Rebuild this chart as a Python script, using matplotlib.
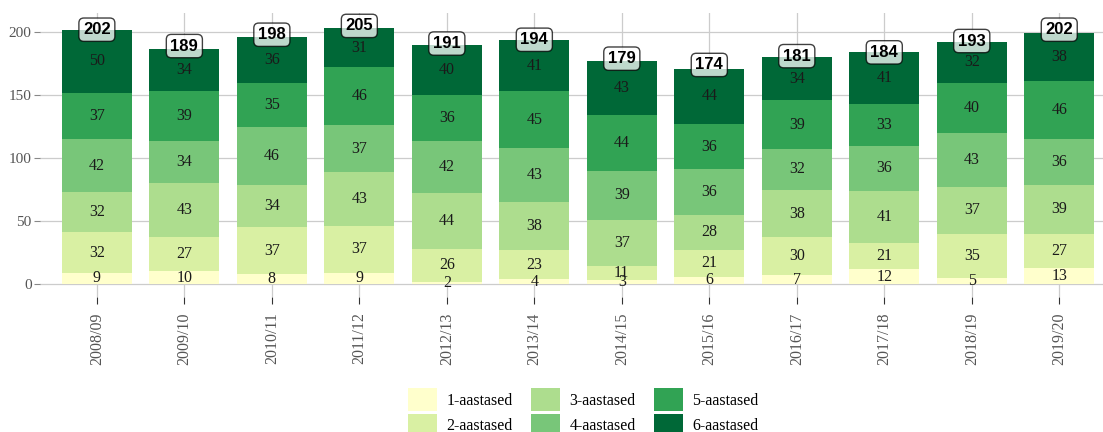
import matplotlib
matplotlib.use("Agg")
import matplotlib.pyplot as plt
import numpy as np

years = ["2008/09", "2009/10", "2010/11", "2011/12", "2012/13", "2013/14",
         "2014/15", "2015/16", "2016/17", "2017/18", "2018/19", "2019/20"]
series_names = ["1-aastased", "2-aastased", "3-aastased", "4-aastased", "5-aastased", "6-aastased"]
age1 = [9, 10, 8, 9, 2, 4, 3, 6, 7, 12, 5, 13]
age2 = [32, 27, 37, 37, 26, 23, 11, 21, 30, 21, 35, 27]
age3 = [32, 43, 34, 43, 44, 38, 37, 28, 38, 41, 37, 39]
age4 = [42, 34, 46, 37, 42, 43, 39, 36, 32, 36, 43, 36]
age5 = [37, 39, 35, 46, 36, 45, 44, 36, 39, 33, 40, 46]
age6 = [50, 34, 36, 31, 40, 41, 43, 44, 34, 41, 32, 38]
totals = [202, 189, 198, 205, 191, 194, 179, 174, 181, 184, 193, 202]
colors = ["#ffffcc", "#d9f0a3", "#addd8e", "#78c679", "#31a354", "#006837"]

series = [age1, age2, age3, age4, age5, age6]

fig = plt.figure(figsize=(11.03, 4.32), dpi=100)
W, H = 1103, 432
ax = fig.add_axes([40 / W, 135 / H, 1 - 40 / W, (419 - 135) / H])

x = np.arange(len(years))
bottom = np.zeros(len(years))
handles = []
for vals, name, col in zip(series, series_names, colors):
    v = np.array(vals, dtype=float)
    b = ax.bar(x, v, width=0.8, bottom=bottom, color=col, label=name, zorder=2)
    handles.append(b)
    for xi, bi, vi in zip(x, bottom, v):
        ax.text(xi, bi + vi / 2, f"{int(vi)}", ha="center", va="center",
                fontsize=11.5, family="Liberation Serif", color="#1a1a1a", zorder=3)
    bottom += v

for xi, t in zip(x, totals):
    ax.text(xi, t, f"{t}", ha="center", va="center", fontsize=12,
            family="Liberation Sans", fontweight="bold", color="black", zorder=4,
            bbox=dict(boxstyle="round,pad=0.25,rounding_size=0.3", fc="white",
                      ec="black", lw=1, alpha=0.75))

ax.set_xlim(-0.65, 11.5)
ax.set_ylim(-10.25, 215.25)
ax.set_yticks([0, 50, 100, 150, 200])
ax.set_xticks(x)
ax.set_xticklabels(years, rotation=90, family="Liberation Serif", fontsize=11.5, color="#555555")
for lab in ax.get_yticklabels():
    lab.set_family("Liberation Serif")
    lab.set_fontsize(11)
    lab.set_color("#555555")
ax.grid(True, color="#cccccc", lw=0.9, zorder=0)
ax.set_axisbelow(True)
for s in ax.spines.values():
    s.set_visible(False)
ax.tick_params(axis="x", length=5, color="#333333", pad=6)
ax.tick_params(axis="y", length=4, color="#888888", pad=2)
ax.set_facecolor("white")

leg = fig.legend(handles=handles, labels=series_names, ncol=3, loc="upper center",
                 bbox_to_anchor=(0.529, 0.135), frameon=False,
                 prop={"family": "Liberation Serif", "size": 11.5},
                 handlelength=1.8, handleheight=1.8, columnspacing=1.14,
                 handletextpad=0.6, labelspacing=0.2)

fig.savefig("out.png", dpi=100)
